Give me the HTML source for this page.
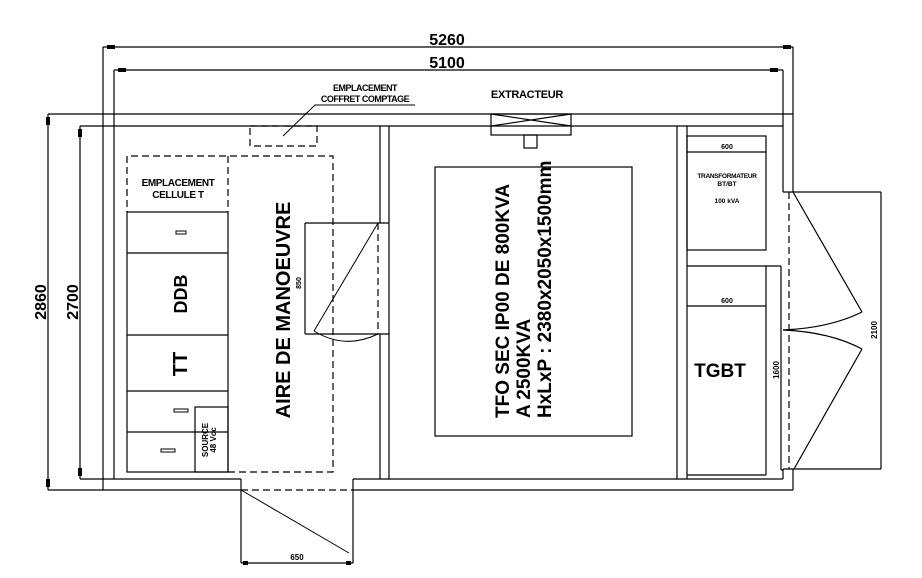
<!DOCTYPE html>
<html><head><meta charset="utf-8"><style>
html,body{margin:0;padding:0;background:#fff;}
svg{display:block;}
text{font-family:"Liberation Sans",Arial,sans-serif;font-weight:bold;fill:#000;}
</style></head><body>
<svg width="922" height="578" viewBox="0 0 922 578" xmlns="http://www.w3.org/2000/svg">
<g stroke="#000" stroke-width="1.2" fill="none">
<!-- top dims -->
<line x1="103" y1="47" x2="793" y2="47"/>
<line x1="103" y1="47" x2="103" y2="114"/>
<line x1="793" y1="47" x2="793" y2="114"/>
<line x1="114" y1="70" x2="783" y2="70"/>
<line x1="114" y1="70" x2="114" y2="126"/>
<line x1="783" y1="70" x2="783" y2="126"/>
<!-- left dims -->
<line x1="48" y1="114" x2="103" y2="114"/>
<line x1="48" y1="114" x2="48" y2="490"/>
<line x1="48" y1="490" x2="103" y2="490"/>
<line x1="80" y1="126" x2="114" y2="126"/>
<line x1="80" y1="126" x2="80" y2="479"/>
<line x1="80" y1="479" x2="114" y2="479"/>
<!-- outer walls -->
<line x1="103" y1="114" x2="793" y2="114"/>
<line x1="114" y1="126" x2="783" y2="126"/>
<line x1="103" y1="114" x2="103" y2="490"/>
<line x1="114" y1="126" x2="114" y2="479"/>
<line x1="793" y1="114" x2="793" y2="192"/>
<line x1="783" y1="126" x2="783" y2="192"/>
<line x1="783" y1="192" x2="881" y2="192"/>
<!-- bottom walls -->
<line x1="103" y1="490" x2="241" y2="490"/>
<line x1="114" y1="479" x2="241" y2="479"/>
<line x1="241" y1="479" x2="241" y2="563"/>
<line x1="353" y1="479" x2="353" y2="563"/>
<line x1="241" y1="563" x2="353" y2="563"/>
<line x1="353" y1="479" x2="783" y2="479"/>
<line x1="353" y1="490" x2="793" y2="490"/>
<line x1="783" y1="479" x2="783" y2="469"/>
<line x1="793" y1="490" x2="793" y2="469"/>
<line x1="783" y1="469" x2="881" y2="469"/>
<line x1="881" y1="192" x2="881" y2="469"/>
<!-- interior walls -->
<line x1="380" y1="126" x2="380" y2="223"/>
<line x1="380" y1="334" x2="380" y2="479"/>
<line x1="389" y1="126" x2="389" y2="479"/>
<line x1="677" y1="126" x2="677" y2="479"/>
<line x1="687" y1="126" x2="687" y2="479"/>
<!-- extractor -->
<rect x="491" y="114" width="80" height="21"/>
<line x1="491" y1="114" x2="571" y2="126"/>
<line x1="491" y1="126" x2="571" y2="114"/>
<rect x="524" y="135" width="13" height="13"/>
<!-- big transformer box -->
<rect x="435" y="167" width="197" height="269"/>
<!-- right room boxes -->
<rect x="687" y="136" width="79" height="114"/>
<line x1="687" y1="152" x2="766" y2="152"/>
<line x1="687" y1="266" x2="781" y2="266"/>
<line x1="766" y1="266" x2="766" y2="475"/>
<line x1="687" y1="475" x2="766" y2="475"/>
<line x1="781" y1="266" x2="781" y2="470"/>
<line x1="781" y1="470" x2="783" y2="470"/>
<line x1="687" y1="306" x2="766" y2="306"/>
<!-- right door -->
<line x1="793" y1="192" x2="862" y2="312"/>
<line x1="862" y1="349" x2="794" y2="469"/>
<path d="M783 330 Q830 328 862 312"/>
<path d="M783 330 Q830 332 862 349"/>
<!-- left room -->
<rect x="127" y="212" width="101" height="260"/>
<line x1="127" y1="253" x2="228" y2="253"/>
<line x1="127" y1="335" x2="228" y2="335"/>
<line x1="127" y1="391" x2="228" y2="391"/>
<line x1="127" y1="432" x2="228" y2="432"/>
<rect x="195" y="407" width="33" height="65"/>
<rect x="176" y="231" width="10" height="3" stroke-width="1"/>
<rect x="174" y="409" width="14" height="3" stroke-width="1"/>
<rect x="161" y="449" width="14" height="3" stroke-width="1"/>
<!-- inner door -->
<line x1="305" y1="223" x2="389" y2="223"/>
<line x1="305" y1="223" x2="305" y2="334"/>
<line x1="305" y1="334" x2="389" y2="334"/>
<line x1="378" y1="223" x2="314" y2="331" stroke-width="1"/>
<path d="M314 331 Q345 350 378 334" stroke-width="1"/>
<!-- bottom door -->
<line x1="241" y1="490" x2="349" y2="553" stroke-width="1"/>
<!-- leader -->
<polyline points="283,136 315,105 415,105" stroke-width="1"/>
</g>
<!-- dashed -->
<g stroke="#000" stroke-width="1.2" fill="none" stroke-dasharray="7,4">
<rect x="250" y="126" width="67" height="20"/>
<polyline points="228,472 333,472 333,156 127,156 127,212"/>
<line x1="228" y1="156" x2="228" y2="212"/>
<line x1="378" y1="223" x2="378" y2="334"/>
<line x1="241" y1="490" x2="353" y2="490"/>
<line x1="789" y1="192" x2="789" y2="469"/>
</g>
<!-- arrow ticks -->
<g fill="#000">
<rect x="107" y="45" width="8" height="4"/><rect x="783" y="45" width="8" height="4"/>
<rect x="118" y="68" width="8" height="4"/><rect x="770" y="68" width="8" height="4"/>
<rect x="46" y="117" width="4" height="8"/><rect x="46" y="479" width="4" height="8"/>
<rect x="78" y="129" width="4" height="8"/><rect x="78" y="468" width="4" height="8"/>
<rect x="243" y="561" width="5" height="4"/><rect x="346" y="561" width="5" height="4"/>
</g>
<!-- texts -->
<text x="447" y="45" font-size="16" text-anchor="middle">5260</text>
<text x="447" y="68" font-size="16" text-anchor="middle">5100</text>
<text transform="translate(46,302) rotate(-90)" font-size="16" text-anchor="middle">2860</text>
<text transform="translate(78,302) rotate(-90)" font-size="16" text-anchor="middle">2700</text>
<text x="365" y="91" font-size="9" text-anchor="middle" letter-spacing="-0.5">EMPLACEMENT</text>
<text x="365" y="102" font-size="9" text-anchor="middle" letter-spacing="-0.5">COFFRET COMPTAGE</text>
<text x="527" y="98" font-size="11" text-anchor="middle" letter-spacing="-0.3">EXTRACTEUR</text>
<text x="178" y="186" font-size="10" text-anchor="middle" letter-spacing="-0.4">EMPLACEMENT</text>
<text x="178" y="198" font-size="10" text-anchor="middle" letter-spacing="-0.4">CELLULE T</text>
<text transform="translate(187,294) rotate(-90)" font-size="18" text-anchor="middle">DDB</text>
<text transform="translate(187,364) rotate(-90)" font-size="20" text-anchor="middle">TT</text>
<text transform="translate(208,440) rotate(-90)" font-size="8" text-anchor="middle">SOURCE</text>
<text transform="translate(216,440) rotate(-90)" font-size="8" text-anchor="middle">48 Vcc</text>
<text transform="translate(290,310) rotate(-90)" font-size="20" text-anchor="middle">AIRE DE MANOEUVRE</text>
<text transform="translate(301,283) rotate(-90)" font-size="7" text-anchor="middle">850</text>
<text x="297" y="560" font-size="8" text-anchor="middle">650</text>
<text transform="translate(509,418) rotate(-90)" font-size="19">TFO SEC IP00 DE 800KVA</text>
<text transform="translate(530,418) rotate(-90)" font-size="19">A 2500KVA</text>
<text transform="translate(551,418) rotate(-90)" font-size="19">HxLxP : 2380x2050x1500mm</text>
<text x="727" y="149" font-size="7" text-anchor="middle">600</text>
<text x="727" y="178" font-size="6.5" text-anchor="middle" letter-spacing="-0.3">TRANSFORMATEUR</text>
<text x="727" y="186" font-size="6.5" text-anchor="middle">BT/BT</text>
<text x="727" y="203" font-size="6.5" text-anchor="middle">100 kVA</text>
<text x="727" y="303" font-size="7" text-anchor="middle">600</text>
<text x="720" y="377" font-size="19" text-anchor="middle">TGBT</text>
<text transform="translate(779,370) rotate(-90)" font-size="8" text-anchor="middle">1600</text>
<text transform="translate(877,330) rotate(-90)" font-size="8" text-anchor="middle">2100</text>
</svg>
</body></html>
